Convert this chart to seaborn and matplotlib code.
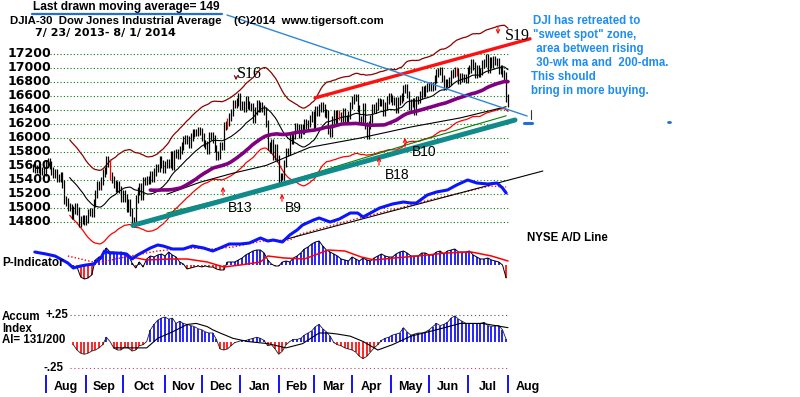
import numpy as np
import pandas as pd
import matplotlib
matplotlib.use("Agg")
import matplotlib.pyplot as plt
import matplotlib.transforms as mtransforms
from matplotlib.lines import Line2D
import seaborn as sns

# ------------------------------------------------------------------ data
HOLIDAYS = ["2013-09-02", "2013-11-28", "2013-12-25", "2014-01-01", "2014-01-20",
            "2014-02-17", "2014-04-18", "2014-05-26", "2014-07-04"]

close_jul13 = [15567, 15542, 15555, 15559, 15521, 15521, 15500]
close_aug13 = [15628, 15658, 15612, 15519, 15471, 15498, 15425, 15419, 15451, 15337, 15112,
               15081, 15010, 15002, 14897, 14963, 15010, 14946, 14776, 14825, 14840, 14810]
close_sep13 = [14834, 14930, 14938, 14922, 15063, 15191, 15327, 15300, 15376, 15495, 15530,
               15677, 15636, 15452, 15402, 15334, 15273, 15329, 15258, 15130]
close_oct13 = [15192, 15134, 14997, 15073, 14936, 14776, 14803, 15126, 15237, 15302, 15168,
               15374, 15372, 15400, 15393, 15468, 15413, 15509, 15570, 15569, 15681, 15618, 15546]
close_nov13 = [15616, 15639, 15619, 15747, 15594, 15762, 15784, 15751, 15822, 15876, 15962,
               15976, 15968, 15901, 16010, 16065, 16073, 16073, 16097, 16086]
close_dec13 = [16008, 15915, 15889, 15821, 16020, 16025, 15974, 15844, 15740, 15755, 15885,
               15875, 16168, 16179, 16221, 16294, 16358, 16479, 16479, 16505, 16577]
close_jan14 = [16441, 16469, 16426, 16531, 16463, 16445, 16437, 16257, 16374, 16482, 16418,
               16459, 16415, 16374, 16198, 15879, 15838, 15929, 15739, 15849, 15699]
close_feb14 = [15373, 15445, 15441, 15629, 15795, 15801, 15995, 15964, 16028, 16154, 16131,
               16041, 16134, 16104, 16208, 16180, 16199, 16273, 16322]
close_mar14 = [16168, 16396, 16361, 16422, 16453, 16419, 16352, 16340, 16109, 16065, 16247,
               16337, 16223, 16332, 16303, 16276, 16368, 16268, 16264, 16323, 16458]
close_apr14 = [16533, 16573, 16572, 16413, 16246, 16257, 16437, 16171, 16027, 16174, 16263,
               16425, 16409, 16449, 16514, 16502, 16501, 16361, 16449, 16535, 16581]
close_may14 = [16559, 16513, 16530, 16402, 16518, 16551, 16583, 16695, 16715, 16614, 16447,
               16492, 16512, 16374, 16533, 16543, 16606, 16676, 16633, 16699, 16717]
close_jun14 = [16744, 16722, 16738, 16837, 16924, 16944, 16946, 16843, 16735, 16776, 16782,
               16808, 16907, 16922, 16948, 16938, 16819, 16868, 16847, 16852, 16827]
close_jul14 = [16957, 16977, 17068, 17025, 16907, 16986, 16915, 16944, 17055, 17061, 17138,
               16977, 17101, 17052, 17114, 17087, 17083, 16961, 16983, 16913, 16881, 16563]
close_aug14 = [16493]

RED_BAR_DAYS = [42, 106, 167, 231]

PRICE_TICKS = [14800, 15000, 15200, 15400, 15600, 15800, 16000, 16200, 16400,
               16600, 16800, 17000, 17200]
MONTH_LABELS = ["Aug", "Sep", "Oct", "Nov", "Dec", "Jan", "Feb", "Mar", "Apr",
                "May", "Jun", "Jul", "Aug"]

# longer moving averages
MA_BLACK_DAYS = [73, 91, 109, 127, 151, 178, 206, 233, 258]
MA_BLACK = [15190, 15360, 15490, 15600, 15860, 15990, 16150, 16280, 16440]
MA_GREEN_DAYS = [73, 102, 129, 167, 208, 233, 258]
MA_GREEN = [14920, 15110, 15290, 15600, 15930, 16120, 16310]

# trend lines
TEAL_DAYS, TEAL = [54.5, 262.8], [14745, 16250]
REDTL_DAYS, REDTL = [153.8, 271.0], [16565, 17410]
BLUETL_DAYS, BLUETL = [105.8, 269.4], [17750, 16307]

# NYSE A/D line
AD_DAYS = [1, 7, 12, 16, 19, 22, 26, 29, 33, 37, 39, 42, 46, 51, 54, 57, 60, 64, 68, 71,
           76, 82, 87, 93, 98, 102, 107, 113, 118, 124, 128, 131, 136, 140, 144, 147, 153,
           156, 162, 167, 173, 177, 180, 184, 189, 196, 202, 206, 209, 215, 220, 226, 231,
           237, 242, 248, 253, 256, 258]
AD_LINE = [1300, 1100, 900, 500, 200, -300, -100, 0, 100, 700, 1400, 1200, 1200, 1100, 600,
           1000, 1300, 1700, 2000, 1900, 1600, 1600, 1900, 1700, 1400, 1700, 2100, 2100, 2200,
           2700, 2400, 2500, 2300, 3000, 3500, 4000, 4500, 4700, 4300, 4600, 5200, 5200, 4800,
           5200, 5700, 6100, 6300, 6200, 6200, 7000, 7300, 7500, 8000, 8500, 8200, 8100, 8200,
           7700, 7200]
AD_MA_DAYS = [19, 26, 35, 45, 53, 68, 84, 98, 109, 125, 140, 146, 162, 178, 200, 216, 233, 249, 258]
AD_MA = [900, 600, 200, 600, 900, 1400, 1700, 1600, 1800, 2400, 2500, 3100, 3900, 4700,
         5700, 6500, 7200, 7900, 7800]
AD_TREND_DAYS, AD_TREND = [136.3, 278.0], [2500, 9400]

# P-Indicator (every second trading day from day 22)
P_IND = [-10, -20, -120, -140, -130, -100, 50, 80, 90, 170,
         130, 130, 120, 130, 120, 100, 20, -30, 30, -20,
         60, 90, 80, 100, 110, 90, 130, 100, 80, 30,
         10, -40, -30, -20, -10, -20, -10, -20, -20, -40,
         -50, -50, 30, 30, 30, 50, 70, 100, 120, 140,
         150, 150, 120, 50, 10, -10, -10, 30, 40, 30,
         70, 90, 120, 160, 180, 210, 230, 240, 190, 150,
         130, 110, 90, 60, 50, 40, 80, 60, 40, 70,
         50, 40, 70, 90, 110, 90, 80, 80, 110, 130,
         140, 120, 90, 90, 90, 120, 120, 100, 100, 130,
         140, 110, 140, 150, 160, 130, 130, 130, 140, 100,
         80, 60, 60, 70, 50, 40, 30, 0, -130]
P_MA_DAYS = [51, 62, 75, 84, 95, 104, 113, 124, 128, 137, 148, 161, 170, 179, 186, 197,
             210, 225, 239, 250, 259]
P_MA = [90, 50, 60, 60, 30, -20, 0, 30, 90, 70, 60, 150, 140, 80, 50, 70, 90, 120, 130, 90, 40]

# Accumulation Index (every second trading day from day 22)
ACCUM = [-0.03, -0.08, -0.11, -0.12, -0.11, -0.09, -0.08, -0.06, -0.03, 0.04,
         0.00, -0.06, -0.08, -0.08, -0.05, -0.06, -0.09, -0.08, -0.04, -0.03,
         0.00, 0.11, 0.16, 0.20, 0.22, 0.23, 0.21, 0.22, 0.17, 0.19,
         0.17, 0.16, 0.15, 0.14, 0.12, 0.11, 0.09, 0.08, 0.08, 0.02,
         -0.07, -0.08, -0.07, -0.04, -0.01, 0.00, 0.01, 0.01, 0.02, 0.03,
         0.04, 0.03, 0.01, -0.04, -0.03, -0.07, -0.12, -0.09, -0.03, 0.00,
         0.02, 0.02, 0.03, 0.06, 0.08, 0.10, 0.14, 0.16, 0.12, 0.09,
         0.05, -0.01, -0.03, -0.04, -0.06, -0.07, -0.08, -0.10, -0.14, -0.16,
         -0.14, -0.10, -0.06, -0.03, 0.01, 0.03, 0.04, 0.06, 0.07, 0.08,
         0.13, 0.09, 0.06, 0.07, 0.08, 0.08, 0.09, 0.11, 0.14, 0.17,
         0.15, 0.16, 0.18, 0.22, 0.24, 0.21, 0.19, 0.17, 0.17, 0.17,
         0.17, 0.17, 0.18, 0.15, 0.14, 0.15, 0.15, 0.11, 0.02]
ACC_MA_DAYS = [44, 62, 68, 76, 84, 89, 95, 98, 102, 109, 117, 128, 138, 147, 156, 161, 166,
               173, 180, 188, 196, 206, 220, 233, 245, 259]
ACC_MA = [-0.06, -0.06, 0.03, 0.09, 0.16, 0.17, 0.14, 0.11, 0.08, 0.03, 0.00, -0.02, -0.06,
          -0.02, 0.08, 0.08, 0.07, 0.05, 0.00, -0.08, -0.03, 0.05, 0.11, 0.17, 0.17, 0.13]
ACC_LEVELS = [0.25, -0.25]

# ------------------------------------------------------------------ derived frames
close = np.array(close_jul13 + close_aug13 + close_sep13 + close_oct13 + close_nov13 +
                 close_dec13 + close_jan14 + close_feb14 + close_mar14 + close_apr14 +
                 close_may14 + close_jun14 + close_jul14 + close_aug14, dtype=float)
dates = pd.bdate_range("2013-07-23", "2014-08-01", freq="C", holidays=HOLIDAYS)
n = len(close)
dates = dates[:n]
day = np.arange(n)
px = pd.DataFrame({"day": day, "close": close})
px["ma21"] = px["close"].rolling(21).mean()
px["upper"] = px["ma21"] * 1.035
px["lower"] = px["ma21"] * 0.965
px["ma65"] = px["close"].rolling(65).mean()

ind_days = np.arange(22, 22 + 2 * len(P_IND), 2)
ind = pd.DataFrame({"day": ind_days, "p": P_IND, "acc": ACCUM})

month_start = [i for i in range(1, n) if dates[i].month != dates[i - 1].month]

# ------------------------------------------------------------------ layout helpers
W, H = 800, 397
SCALE = 475.0 / 259.0          # pixels per trading day
X0 = -33.0 / SCALE
X1 = (W - 33.0) / SCALE


def lim_from_pixels(v_at, per_px):
    y_ref, v_ref = v_at
    return (v_ref - (H - y_ref) * per_px, v_ref + y_ref * per_px)


sns.set_theme(style="white")
plt.rcParams["font.family"] = ["Liberation Sans", "DejaVu Sans"]

fig = plt.figure(figsize=(8, 3.97), dpi=100)
fig.patch.set_facecolor("white")


def new_axes(ylim):
    a = fig.add_axes([0, 0, 1, 1])
    a.set_xlim(X0, X1)
    a.set_ylim(*ylim)
    a.patch.set_alpha(0)
    a.axis("off")
    return a


ax = new_axes(lim_from_pixels((53.5, 17200), 200 / 14.0))
axp = new_axes(lim_from_pixels((265, 0), 10.0))
axad = new_axes(lim_from_pixels((265, 0), 100.0))
axacc = new_axes(lim_from_pixels((341.5, 0), 0.0094))


def fx(p):
    return p / W


def fy(p):
    return 1 - p / H


def T(x, y, s, **kw):
    kw.setdefault("va", "center")
    kw.setdefault("ha", "left")
    fig.text(fx(x), fy(y), s, **kw)


# ------------------------------------------------------------------ price panel
blend = mtransforms.blended_transform_factory(fig.transFigure, ax.transData)
ax.hlines(PRICE_TICKS, 9, n - 1, colors="#008000", linestyles=(0, (1, 2)), lw=0.8, zorder=1)
for p in PRICE_TICKS:
    ax.text(fx(51), p, str(p), transform=blend, ha="right", va="center",
            fontsize=9, fontweight="bold", family="DejaVu Sans", color="black")

BAR_PAD = 55
prev = np.r_[close[0], close[:-1]]
lo = np.minimum(prev, close) - BAR_PAD
hi = np.maximum(prev, close) + BAR_PAD
bar_colors = ["red" if d in RED_BAR_DAYS else "black" for d in day]
ax.vlines(day, lo, hi, colors=bar_colors, lw=0.9, zorder=3)

sns.lineplot(data=px, x="day", y="upper", ax=ax, color="#8b0000", lw=0.9, zorder=2)
sns.lineplot(data=px, x="day", y="lower", ax=ax, color="#ff0000", lw=0.9, zorder=2)
sns.lineplot(data=px, x="day", y="ma21", ax=ax, color="black", lw=0.8, zorder=2)
sns.lineplot(data=px, x="day", y="ma65", ax=ax, color="#800080", lw=2.6, zorder=4)
sns.lineplot(x=MA_BLACK_DAYS, y=MA_BLACK, ax=ax, color="black", lw=0.8, zorder=2)
sns.lineplot(x=MA_GREEN_DAYS, y=MA_GREEN, ax=ax, color="#008000", lw=0.8, zorder=2)
sns.lineplot(x=TEAL_DAYS, y=TEAL, ax=ax, color="#108a8a", lw=3.6, zorder=5)
sns.lineplot(x=REDTL_DAYS, y=REDTL, ax=ax, color="#ff1010", lw=2.4, zorder=5)
sns.lineplot(x=BLUETL_DAYS, y=BLUETL, ax=ax, color="#2f86d8", lw=1.0, zorder=5)

# ------------------------------------------------------------------ P-Indicator
p_vals = np.array(P_IND)
axp.vlines(ind["day"], 0, p_vals, colors=np.where(p_vals >= 0, "#0000ff", "#ff0000"), lw=1.2)
sns.lineplot(data=ind, x="day", y="p", ax=axp, color="black", lw=0.7)
sns.lineplot(x=P_MA_DAYS, y=P_MA, ax=axp, color="#ff0000", lw=1.1)

# ------------------------------------------------------------------ A/D line
sns.lineplot(x=AD_MA_DAYS, y=AD_MA, ax=axad, color="#ff0000", lw=1.0, linestyle=(0, (1, 1.5)))
sns.lineplot(x=AD_TREND_DAYS, y=AD_TREND, ax=axad, color="black", lw=0.8)
sns.lineplot(x=AD_DAYS, y=AD_LINE, ax=axad, color="#0a14ff", lw=2.2)

# ------------------------------------------------------------------ Accum index
a_vals = np.array(ACCUM)
axacc.hlines(ACC_LEVELS, 20, n - 1, colors=["#555555", "#c04070"], linestyles=(0, (1, 2.5)), lw=0.8)
axacc.vlines(ind["day"], 0, a_vals, colors=np.where(a_vals >= 0, "#0000ff", "#ff0000"), lw=1.2)
sns.lineplot(data=ind, x="day", y="acc", ax=axacc, color="#202020", lw=0.6)
sns.lineplot(x=ACC_MA_DAYS, y=ACC_MA, ax=axacc, color="black", lw=0.8)

# ------------------------------------------------------------------ month axis
xblend = mtransforms.blended_transform_factory(ax.transData, fig.transFigure)
seps = month_start + [n - 1] if month_start[-1] != n - 1 else month_start
ax.vlines(seps, fy(393), fy(375), colors="#0000ff", lw=1.3, transform=xblend, clip_on=False)
centers = [(seps[k] + seps[k + 1]) / 2 for k in range(len(seps) - 1)] + [seps[-1] + 11]
for c, lab in zip(centers, MONTH_LABELS):
    ax.text(c, fy(387), lab, transform=xblend, ha="center", va="center",
            fontsize=9, fontweight="bold", color="black")

for a in (ax, axp, axad, axacc):
    a.set_xlim(X0, X1)
    a.set_xlabel("")
    a.set_ylabel("")
ax.set_ylim(*lim_from_pixels((53.5, 17200), 200 / 14.0))
axp.set_ylim(*lim_from_pixels((265, 0), 10.0))
axad.set_ylim(*lim_from_pixels((265, 0), 100.0))
axacc.set_ylim(*lim_from_pixels((341.5, 0), 0.0094))

# ------------------------------------------------------------------ texts
B = dict(fontweight="bold", color="black")
T(33, 7, "Last drawn moving average= 149", fontsize=8.6, **B)
fig.add_artist(Line2D([fx(32), fx(222)], [fy(14), fy(14)], color="#1f6fd6", lw=1.6))
T(10, 21, "DJIA-30  Dow Jones Industrial Average    (C)2014  www.tigersoft.com", fontsize=8.2, **B)
T(35, 33, "7/ 23/ 2013- 8/ 1/ 2014", fontsize=8, fontweight="bold", color="black",
  family="DejaVu Sans")

T(2, 263, "P-Indicator", fontsize=8.5, **B)
T(527, 238, "NYSE A/D Line", fontsize=8.3, **B)
T(2, 317, "Accum", fontsize=8.3, **B)
T(2, 328.5, "Index", fontsize=8.3, **B)
T(2, 340, "AI= 131/200", fontsize=8.3, **B)
T(46, 315, "+.25", fontsize=8.3, **B)
T(44, 368, "-.25", fontsize=8.3, **B)

SERIF = dict(family=["Liberation Serif", "DejaVu Serif"], fontsize=11.5, color="black")
T(237, 74, "S16", **SERIF)
T(505, 36, "S19", **SERIF)
SANS = dict(fontsize=10, color="black")
T(228, 208, "B13", **SANS)
T(285, 208, "B9", **SANS)
T(385, 175, "B18", **SANS)
T(412, 152, "B10", **SANS)

BLUE = dict(fontsize=8.3, fontweight="bold", color="#1e8cf0")
T(533, 21, "DJI has retreated to", **BLUE)
T(533, 35, "\"sweet spot\" zone,", **BLUE)
T(533, 49, " area between rising", **BLUE)
T(533, 63, " 30-wk ma and  200-dma.", **BLUE)
T(531, 77, "This should", **BLUE)
T(531, 91, "bring in more buying.", **BLUE)


def arrow(x, y_tail, y_tip, color="red"):
    fig.add_artist(matplotlib.patches.FancyArrowPatch(
        (fx(x), fy(y_tail)), (fx(x), fy(y_tip)), transform=fig.transFigure,
        arrowstyle="->", mutation_scale=6, color=color, lw=0.8))


arrow(236, 74, 83, color="#8b0000")
arrow(498, 24, 37)
arrow(223, 198, 184)
arrow(282, 204, 191)
arrow(379, 168, 154)
arrow(405, 150, 135)

fig.add_artist(Line2D([fx(524), fx(532)], [fy(123), fy(123)], color="#1f6fd6", lw=2.2))
fig.add_artist(Line2D([fx(531), fx(531)], [fy(110), fy(119)], color="#333333", lw=0.8))
fig.add_artist(Line2D([fx(668), fx(670)], [fy(122), fy(122)], color="#1f6fd6", lw=2.0))

fig.savefig("out.png", dpi=100, facecolor="white")
